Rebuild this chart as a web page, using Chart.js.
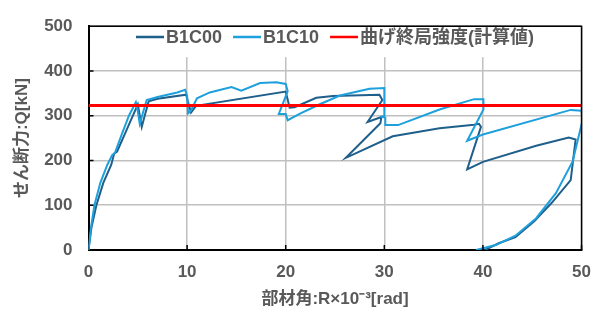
<!DOCTYPE html>
<html>
<head>
<meta charset="utf-8">
<script src="https://cdn.jsdelivr.net/npm/chart.js@4.4.0/dist/chart.umd.min.js"></script>
<style>
  html, body { margin: 0; padding: 0; background: #fff; }
</style>
</head>
<body>
<canvas id="myChart" width="603" height="312"></canvas>
<script>
// 系列名
const seriesNames = ['B1C00', 'B1C10', '曲げ終局強度(計算値)']

// B1C00 (部材角, せん断力)
const b1c00X = [0, 0.3, 0.8, 1.5, 2.3, 2.6, 2.9, 3.7, 4.5, 5.0, 5.2, 5.4, 5.7, 6.1, 7.0, 9.9, 10.1, 10.4, 10.9,
  20.0, 20.4, 20.9, 23.1, 24.8, 29.5, 29.8, 28.3, 29.7, 29.6, 26.1, 30.85, 35.6, 39.1, 39.6, 39.8, 38.4, 40.0,
  45.4, 48.7, 49.4, 48.9, 47.0, 45.2, 43.3, 41.6, 40.2]
const b1c00Y = [0, 50, 100, 150, 190, 215, 220, 260, 300, 325, 300, 275, 300, 332, 338, 347, 330, 307, 322,
  354, 318, 319, 340, 344, 347, 335, 286, 297, 283, 206, 254, 272, 280, 282, 275, 180, 197,
  233, 251, 247, 156, 106, 64, 29, 15, 0]

// B1C10
const b1c10X = [0, 0.25, 0.6, 1.2, 1.9, 2.4, 2.7, 3.4, 4.1, 4.8, 5.0, 5.2, 5.5, 5.9, 7.0, 9.0, 9.8, 10.0, 10.1, 10.4,
  11.0, 12.3, 14.5, 15.5, 17.4, 19.05, 20.0, 20.2, 19.3, 20.0, 20.2, 21.4, 23.4, 25.5, 28.5, 30.0, 30.0, 29.6,
  30.1, 30.1, 31.4, 35.6, 39.1, 40.05, 40.05, 38.4, 40.0, 48.9, 50.0, 50.1, 49.1, 47.4, 45.4, 43.3, 41.3, 39.3]
const b1c10Y = [0, 50, 100, 150, 190, 212, 218, 260, 300, 330, 310, 282, 305, 335, 342, 352, 358, 345, 305, 312,
  339, 352, 364, 356, 373, 375, 371, 355, 304, 304, 290, 304, 325, 345, 360, 362, 298, 298,
  296, 279, 279, 314, 337, 337, 314, 244, 258, 313, 311, 290, 198, 127, 71, 32, 11, 0]

// 曲げ終局強度(計算値)
const limitX = [0, 50]
const limitY = [323, 323]

// 目盛
const xTicks = [0, 10, 20, 30, 40, 50]
const yTicks = [0, 100, 200, 300, 400, 500]

const toPoints = (xs, ys) => xs.map((x, i) => ({ x: x, y: ys[i] }))

const fontFamily = "'Liberation Sans', 'Noto Sans CJK JP', sans-serif"
const textColor = '#595959'

// 凡例(グラフ内)・枠・内向き目盛
const framePlugin = {
  id: 'frame',
  beforeDatasetsDraw(chart) {
    const ctx = chart.ctx
    const a = chart.chartArea
    ctx.save()
    ctx.fillStyle = '#fff'
    ctx.fillRect(a.left + 2, a.top + 1, a.right - a.left - 4, 30)

    ctx.font = 'bold 18px ' + fontFamily
    ctx.textBaseline = 'middle'
    const lineW = 28, gapText = 2, gapItem = 11
    const items = chart.data.datasets.map(ds => ({
      label: ds.label, color: ds.borderColor, w: ctx.measureText(ds.label).width
    }))
    let total = 0
    items.forEach((it, i) => { total += lineW + gapText + it.w + (i < items.length - 1 ? gapItem : 0) })
    let x = (a.left + a.right) / 2 - total / 2
    const y = 37
    items.forEach(it => {
      ctx.strokeStyle = it.color
      ctx.lineWidth = 2.5
      ctx.beginPath()
      ctx.moveTo(x, y)
      ctx.lineTo(x + lineW, y)
      ctx.stroke()
      x += lineW + gapText
      ctx.fillStyle = textColor
      ctx.fillText(it.label, x, y + 1)
      x += it.w + gapItem
    })
    ctx.restore()
  },
  afterDraw(chart) {
    const ctx = chart.ctx
    const a = chart.chartArea
    const sx = chart.scales.x
    const sy = chart.scales.y
    ctx.save()
    ctx.strokeStyle = '#000'
    ctx.lineWidth = 1.5
    ctx.beginPath()
    ctx.moveTo(a.left, a.top)
    ctx.lineTo(a.right, a.top)
    ctx.lineTo(a.right, a.bottom)
    ctx.stroke()
    ctx.beginPath()
    xTicks.slice(1).forEach(v => {
      const px = sx.getPixelForValue(v)
      ctx.moveTo(px, a.bottom)
      ctx.lineTo(px, a.bottom - 5)
    })
    yTicks.slice(1, -1).forEach(v => {
      const py = sy.getPixelForValue(v)
      ctx.moveTo(a.left, py)
      ctx.lineTo(a.left + 5, py)
    })
    ctx.stroke()
    ctx.restore()
  }
}

const ctx = document.getElementById('myChart').getContext('2d')

new Chart(ctx, {
  type: 'scatter',
  data: {
    datasets: [
      {
        label: seriesNames[0],
        data: toPoints(b1c00X, b1c00Y),
        showLine: true,
        borderColor: '#1f5f8b',
        backgroundColor: '#1f5f8b',
        borderWidth: 2,
        pointRadius: 0,
        order: 2
      },
      {
        label: seriesNames[1],
        data: toPoints(b1c10X, b1c10Y),
        showLine: true,
        borderColor: '#1ea0dc',
        backgroundColor: '#1ea0dc',
        borderWidth: 2,
        pointRadius: 0,
        order: 1
      },
      {
        label: seriesNames[2],
        data: toPoints(limitX, limitY),
        showLine: true,
        borderColor: '#ff0000',
        backgroundColor: '#ff0000',
        borderWidth: 3,
        pointRadius: 0,
        order: 0
      }
    ]
  },
  options: {
    responsive: false,
    animation: false,
    layout: { padding: { left: 0, right: 20, top: 16, bottom: 0 } },
    plugins: {
      tooltip: { enabled: false },
      legend: { display: false }
    },
    scales: {
      x: {
        type: 'linear',
        min: 0,
        max: 50,
        afterBuildTicks: s => { s.ticks = xTicks.map(v => ({ value: v })) },
        afterFit: s => { s.height = 62 },
        grid: { color: '#c0c0c0', lineWidth: 1.5, drawTicks: false },
        border: { color: '#000', width: 2 },
        ticks: { padding: 12, color: textColor, font: { family: fontFamily, size: 17, weight: 'bold' } },
        title: {
          display: true,
          text: '部材角:R×10⁻³[rad]',
          color: textColor,
          font: { family: fontFamily, size: 17, weight: 'bold' },
          padding: { top: 0, bottom: 2 }
        }
      },
      y: {
        type: 'linear',
        min: 0,
        max: 500,
        afterBuildTicks: s => { s.ticks = yTicks.map(v => ({ value: v })) },
        afterFit: s => { s.width = 88.5 },
        grid: { color: '#c0c0c0', lineWidth: 1.5, drawTicks: false },
        border: { color: '#000', width: 2 },
        ticks: { padding: 16, color: textColor, font: { family: fontFamily, size: 17, weight: 'bold' } },
        title: {
          display: true,
          text: 'せん断力:Q[kN]',
          color: textColor,
          font: { family: fontFamily, size: 17, weight: 'bold' },
          padding: { top: 12, bottom: 0 }
        }
      }
    }
  },
  plugins: [framePlugin]
})
</script>
</body>
</html>
